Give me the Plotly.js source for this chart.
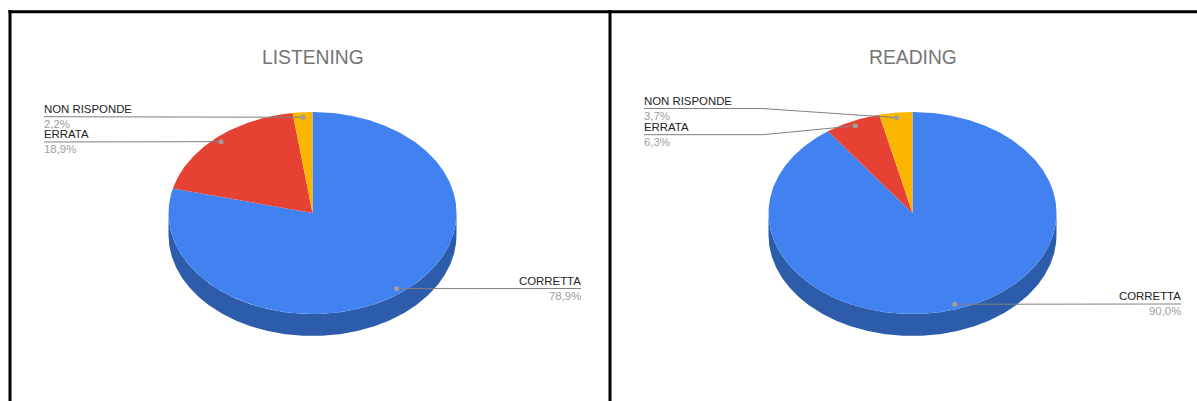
<!DOCTYPE html>
<html>
<head>
<meta charset="utf-8">
<script src="https://cdn.plot.ly/plotly-3.0.1.min.js"></script>
<style>html,body{margin:0;padding:0;background:#fff;overflow:hidden}#chart{width:1197px;height:401px}
#chart path{shape-rendering:geometricPrecision !important}</style>
</head>
<body>
<div id="chart"></div>
<script>
// ---- data ----
const categories = ['CORRETTA', 'ERRATA', 'NON RISPONDE'];
const listeningValues = [78.9, 18.9, 2.2];
const readingValues = [90.0, 6.3, 3.7];
const panelTitles = ['LISTENING', 'READING'];

// ---- styles and layout ----
const W = 1197, H = 401;
const sliceColors = ['#4282f0', '#e64233', '#fbb604'];
const bandColors = ['#2d5cab', '#a32f25', '#b08403'];
const LABEL_FONT = 'Liberation Sans, Arial, sans-serif';
const RX = 144, RY = 101, DEPTH = 22 / 101, CY = 213, ANCHOR_R = 0.95;
const panels = [
  {xa: 'x',  ya: 'y',  left: 0,     right: 598.5, cx: 312.5, values: listeningValues,
   leaders: [
     {side: 'right', endX: 581, y: 288.5},
     {side: 'left',  endX: 44,  y: 142},
     {side: 'left',  endX: 44,  y: 116.7}
   ]},
  {xa: 'x2', ya: 'y2', left: 598.5, right: 1197,  cx: 912.5, values: readingValues,
   leaders: [
     {side: 'right', endX: 1181, y: 304},
     {side: 'left',  endX: 644,  y: 134.7, elbowX: 763},
     {side: 'left',  endX: 644,  y: 108.5, elbowX: 762}
   ]}
];

const pt = (deg, r, dy) => [r * Math.sin(deg * Math.PI / 180), r * Math.cos(deg * Math.PI / 180) - (dy || 0)];
function arc(a, b, dy) {
  const out = [], n = Math.max(2, Math.ceil(Math.abs(b - a) / 0.5));
  for (let i = 0; i <= n; i++) out.push(pt(a + (b - a) * i / n, 1, dy));
  return out;
}

const traces = [], annotations = [];
panels.forEach((p, pi) => {
  const toX = px => (px - p.cx) / RX, toY = py => (CY - py) / RY;
  const total = p.values.reduce((a, b) => a + b, 0);
  const slices = [];
  let acc = 0;
  p.values.forEach((v, i) => {
    slices.push({i, a: acc / total * 360, b: (acc + v) / total * 360});
    acc += v;
  });
  // side wall of the disc
  slices.forEach(s => {
    const a = Math.max(s.a, 90), b = Math.min(s.b, 270);
    if (b <= a) return;
    const poly = arc(a, b, 0).concat(arc(b, a, DEPTH));
    traces.push({type: 'scatter', mode: 'lines', xaxis: p.xa, yaxis: p.ya, hoverinfo: 'skip',
      x: poly.map(q => q[0]), y: poly.map(q => q[1]), fill: 'toself', fillcolor: bandColors[s.i],
      line: {width: 0}, showlegend: false});
  });
  // top face
  slices.forEach(s => {
    const poly = [[0, 0]].concat(arc(s.a, s.b, 0), [[0, 0]]);
    traces.push({type: 'scatter', mode: 'lines', xaxis: p.xa, yaxis: p.ya, hoverinfo: 'skip',
      x: poly.map(q => q[0]), y: poly.map(q => q[1]), fill: 'toself', fillcolor: sliceColors[s.i],
      line: {width: 0}, showlegend: false});
  });
  // leaders and labels
  slices.forEach(s => {
    const L = p.leaders[s.i];
    const anchor = pt((s.a + s.b) / 2, ANCHOR_R);
    const xs = [anchor[0]], ys = [anchor[1]];
    if (L.elbowX !== undefined) { xs.push(toX(L.elbowX)); ys.push(toY(L.y)); }
    xs.push(toX(L.endX)); ys.push(toY(L.y));
    traces.push({type: 'scatter', mode: 'lines', xaxis: p.xa, yaxis: p.ya, hoverinfo: 'skip',
      x: xs, y: ys, line: {color: '#808080', width: 1}, showlegend: false});
    traces.push({type: 'scatter', mode: 'markers', xaxis: p.xa, yaxis: p.ya, hoverinfo: 'skip',
      x: [anchor[0]], y: [anchor[1]], marker: {color: '#9e9e9e', size: 5}, showlegend: false});
    const xanchor = L.side;
    const base = {xref: p.xa, yref: p.ya, x: toX(L.endX), y: toY(L.y), showarrow: false,
      xanchor, yanchor: 'middle', borderpad: 0, xshift: L.side === 'left' ? -1 : 1};
    annotations.push(Object.assign({}, base, {text: categories[s.i], yshift: 8,
      font: {family: LABEL_FONT, size: 11.4, color: '#222222'}}));
    annotations.push(Object.assign({}, base, {
      text: p.values[s.i].toFixed(1).replace('.', ',') + '%', yshift: -7,
      font: {family: LABEL_FONT, size: 11.4, color: '#9e9e9e'}}));
  });
  // panel title
  annotations.push({xref: p.xa, yref: p.ya, x: 0, y: toY(57), showarrow: false,
    xanchor: 'center', yanchor: 'middle', text: panelTitles[pi], borderpad: 0,
    font: {family: LABEL_FONT, size: 19.3, color: '#757575'}});
});

const axisBase = {visible: false, fixedrange: true, showgrid: false, zeroline: false};
const rangeX = p => [(p.left - p.cx) / RX, (p.right - p.cx) / RX];
const rangeY = [(CY - H) / RY, CY / RY];
const frame = (x0, y0, x1, y1) => ({type: 'line', xref: 'paper', yref: 'paper', layer: 'above',
  x0: x0 / W, x1: x1 / W, y0: 1 - y0 / H, y1: 1 - y1 / H, line: {color: '#000000', width: 3}});

const layout = {
  width: W, height: H, margin: {l: 0, r: 0, t: 0, b: 0, pad: 0},
  paper_bgcolor: '#ffffff', plot_bgcolor: '#ffffff', showlegend: false,
  xaxis: Object.assign({}, axisBase, {domain: [panels[0].left / W, panels[0].right / W], range: rangeX(panels[0])}),
  yaxis: Object.assign({}, axisBase, {domain: [0, 1], range: rangeY}),
  xaxis2: Object.assign({}, axisBase, {domain: [panels[1].left / W, panels[1].right / W], range: rangeX(panels[1])}),
  yaxis2: Object.assign({}, axisBase, {domain: [0, 1], range: rangeY, anchor: 'x2'}),
  annotations,
  shapes: [frame(8.5, 11.7, W, 11.7), frame(10, 10, 10, H), frame(610, 10, 610, H)]
};
Plotly.newPlot('chart', traces, layout, {displayModeBar: false, staticPlot: true});
</script>
</body>
</html>
